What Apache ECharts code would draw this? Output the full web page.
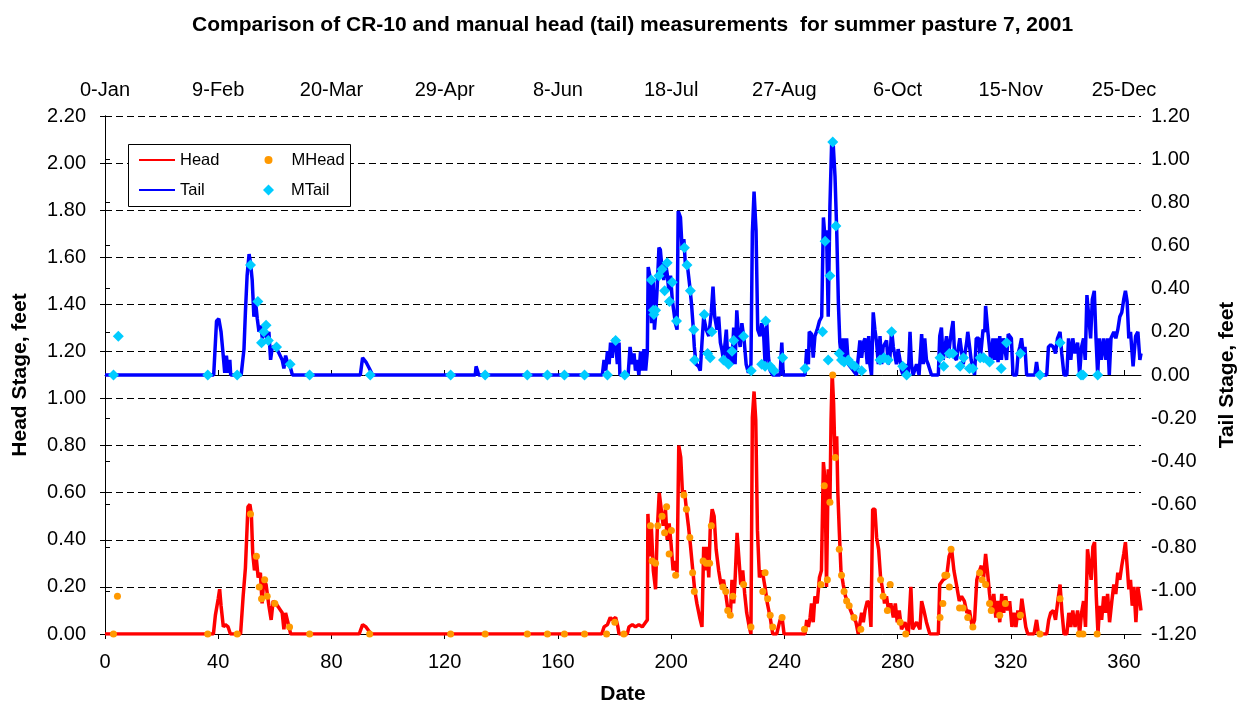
<!DOCTYPE html>
<html>
<head>
<meta charset="utf-8">
<script src="https://cdn.jsdelivr.net/npm/echarts@6/dist/echarts.min.js"></script>
<style>
html,body{margin:0;padding:0;background:#fff;}
#chart{width:1244px;height:706px;}
</style>
</head>
<body>
<div id="chart"></div>
<script>
// ---- Data (day of year, stage in feet) ----
const chartTitle = 'Comparison of CR-10 and manual head (tail) measurements  for summer pasture 7, 2001';
const topTickLabels = ['0-Jan','9-Feb','20-Mar','29-Apr','8-Jun','18-Jul','27-Aug','6-Oct','15-Nov','25-Dec'];

const headData = [
[0,0],[38.3,0],[39,0.08],[40,0.15],[40.5,0.19],[41,0.12],[41.8,0.03],[42.5,0.04],[43.5,0.03],[44.3,0],
[47.9,0],[48.8,0.16],[49.6,0.28],[50.5,0.54],[51.2,0.55],[51.7,0.51],[52.2,0.34],[52.8,0.27],[53.4,0.33],[54.1,0.24],[54.9,0.26],[55.5,0.13],[56.1,0.23],[56.9,0.21],[57.9,0.12],[58.7,0.06],[59.4,0.14],[60.3,0.13],[61.5,0.11],[62.6,0.09],[63.2,0.02],[63.8,0.09],[64.4,0.06],[65,0.03],[65.6,0],
[89.8,0],[91,0.04],[92.2,0.03],[94,0],
[175.5,0],[176.3,0.03],[177.5,0.04],[178.5,0.07],[179.2,0.06],[180.4,0.07],[181.2,0.03],[181.6,0],[184.5,0],[185.1,0.03],[186.3,0.04],[187.4,0.03],[188.6,0.04],[189.8,0.03],[191,0.05],[191.6,0.06],
[191.8,0.51],[192.5,0.33],[193.0,0.46],[193.7,0.27],[194.5,0.19],[195.1,0.44],[195.8,0.60],[196.5,0.53],[197.2,0.46],[198.0,0.53],[198.6,0.40],[199.3,0.47],[200.0,0.38],[200.7,0.27],[201.4,0.31],[202.1,0.26],[202.7,0.80],[203.4,0.75],[204.0,0.60],[204.7,0.61],[205.4,0.53],[206.1,0.46],[206.8,0.38],[207.5,0.29],[208.3,0.19],[209.1,0.13],[210.1,0.07],[210.9,0.03],
[211.5,0.37],[212.1,0.27],[212.7,0.37],[213.3,0.24],[213.8,0.44],[214.5,0.53],[215.2,0.50],[215.9,0.36],[216.8,0.27],[217.6,0.21],[218.5,0.23],[219.4,0.16],[220.1,0.10],[220.9,0.07],[221.5,0.23],[222.1,0.13],[222.6,0.23],[223.3,0.43],[223.9,0.33],[224.6,0.21],[225.3,0.27],[226.0,0.17],[226.7,0.09],[227.6,0.03],[228.2,0],
[228.7,0.92],[229.3,1.03],[229.9,0.91],[230.5,0.44],[231.2,0.24],[231.9,0.27],[232.6,0.24],[233.3,0.19],[234.0,0.13],[235.0,0.07],[235.9,0],[237.3,0],[238.5,0.06],[239.2,0.07],[239.9,0],
[247.3,0],[247.9,0.06],[248.5,0.03],[249.1,0.07],[249.6,0.13],[250.2,0.05],[250.8,0.16],[251.6,0.13],[252.4,0.24],[253.1,0.27],[253.8,0.73],[254.4,0.65],[254.9,0.20],[255.5,0.70],[256.1,0.55],[256.5,0.91],[256.9,1.11],[257.4,0.98],[257.9,0.75],[258.5,0.84],[258.9,0.60],[259.4,0.44],[260.0,0.27],[260.8,0.21],[261.6,0.16],[262.6,0.13],[263.4,0.10],[264.4,0.07],[265.3,0.05],[266.1,0],
[267.3,0.09],[267.9,0.05],[268.5,0.10],[269.3,0.14],[270.0,0.13],[270.6,0.03],[271.2,0.53],[272.0,0.53],[272.6,0.41],[273.3,0.36],[274.0,0.24],[274.7,0.19],[275.4,0.13],[276.1,0.16],[276.8,0.10],[277.6,0.13],[278.5,0.07],[279.2,0.13],[279.9,0.05],[280.6,0.10],[281.4,0.02],[282.6,0.05],[283.8,0],[284.7,0.20],[285.3,0.02],[286.7,0.05],[287.9,0.02],[288.5,0.14],[289.3,0.10],[290.2,0.05],[291.4,0],[294.4,0],
[294.9,0.21],[296.1,0.23],[297.3,0.24],[298.2,0.33],[299.1,0.36],[299.9,0.27],[300.8,0.21],[301.8,0.14],[302.6,0.16],[303.6,0.14],[304.5,0.09],[305.4,0.10],[306.4,0.03],[307.2,0.06],[308.0,0.23],[308.7,0.26],[309.6,0.29],[310.4,0.24],[311.1,0.34],[311.8,0.26],[312.5,0.17],[313.2,0.10],[314.0,0.17],[314.7,0.07],[315.4,0.14],[316.1,0.05],[316.8,0.17],[317.5,0.09],[318.2,0.16],[318.9,0.10],[319.6,0.14],[320.4,0.03],[321.1,0.09],[321.8,0.03],[322.5,0.10],[323.2,0.06],[323.9,0.15],[324.6,0.09],[325.3,0.03],[326.0,0],
[328.2,0],[329.1,0.06],[329.8,0],[332.7,0],[333.4,0.06],[334.1,0.09],[335.0,0.10],[335.8,0.06],[336.5,0.13],[337.4,0.21],[338.1,0.09],[338.8,0],[339.8,0],[340.5,0.09],[341.2,0.03],[341.9,0.10],[342.7,0.03],[343.6,0.10],[344.3,0],[345.0,0.09],[345.7,0.14],[346.4,0.03],[347.1,0.36],[347.8,0.29],[348.4,0.23],[349.0,0.37],[349.6,0.39],[350.2,0.16],[350.8,0],
[351.4,0.12],[352.1,0.06],[352.8,0.16],[353.5,0.09],[354.2,0.17],[354.9,0.05],[355.7,0.14],[356.4,0.21],[357.1,0.17],[357.8,0.26],[358.5,0.23],[359.2,0.29],[359.9,0.34],[360.5,0.39],[361.1,0.29],[361.7,0.19],[362.3,0.23],[362.9,0.12],[363.5,0.20],[364.2,0.05],[364.9,0.20],[365.6,0.14],[366,0.10]
];

const tailData = [
[0,0],[38.4,0],[39.4,0.25],[40.2,0.26],[41.0,0.20],[41.7,0.10],[42.3,0.01],[42.9,0.09],[43.5,0.01],[44.1,0.07],[44.4,0],
[48.1,0],[49.1,0.12],[49.6,0.29],[50.2,0.46],[50.9,0.56],[51.4,0.52],[52.0,0.44],[52.6,0.27],[53.2,0.34],[53.8,0.26],[54.4,0.20],[55.0,0.23],[55.6,0.17],[56.1,0.20],[57.3,0.17],[57.9,0.20],[58.5,0.07],[59.1,0.13],[60.3,0.13],[61.5,0.10],[62.6,0.07],[63.2,0.03],[63.8,0.09],[64.4,0.06],[65.6,0.03],[66.2,0],
[90.2,0],[91,0.08],[92.2,0.06],[93.4,0.03],[94.5,0],[130.8,0],[131.1,0.04],[131.6,0.02],[132,0],
[175.7,0],[176.3,0.07],[176.9,0.02],[177.5,0.11],[178.1,0.05],[178.6,0.15],[179.2,0.08],[179.8,0.17],[180.4,0.15],[181.0,0.05],[181.6,0.15],[181.9,0],[184.8,0],
[185.5,0.13],[186.3,0.05],[186.9,0.10],[187.4,0.02],[188.0,0.07],[188.6,0],[189.2,0.11],[189.8,0.02],[190.4,0.12],[191.0,0.02],[191.6,0.11],
[191.9,0.50],[192.5,0.46],[193.1,0.24],[193.7,0.44],[194.1,0.21],[194.6,0.29],[195.1,0.41],[195.7,0.59],[196.2,0.58],[196.8,0.49],[197.4,0.44],[198.0,0.52],[198.6,0.47],[199.2,0.39],[199.8,0.46],[200.4,0.35],[200.9,0.30],[201.5,0.24],[202.1,0.21],[202.5,0.76],[203.3,0.73],[203.9,0.58],[204.5,0.63],[205.0,0.52],[205.9,0.49],[206.6,0.41],[207.2,0.33],[207.7,0.24],[208.2,0.13],[208.8,0.05],[209.7,0.04],[210.3,0.02],
[210.9,0.15],[211.5,0.27],[212.4,0.21],[213.3,0.18],[214.2,0.29],[214.8,0.41],[215.4,0.27],[216.2,0.21],[216.8,0.27],[217.4,0.15],[217.9,0.12],[218.5,0.07],[219.5,0.21],[220.1,0.05],[220.9,0.13],[221.5,0.05],[222.1,0.22],[222.6,0.05],[223.2,0.30],[223.8,0.18],[224.4,0.13],[225.0,0.24],[225.8,0.16],[226.5,0.05],[227.3,0.01],[228.2,0.05],
[228.7,0.66],[229.3,0.85],[230.0,0.67],[230.6,0.21],[231.4,0.18],[232.0,0.24],[232.6,0.21],[233.2,0.05],[233.8,0.24],[234.4,0.08],[235.0,0.02],[235.9,0],[238.5,0],[239.1,0.15],[239.6,0],
[247.3,0],[247.9,0.12],[248.5,0.05],[248.8,0.20],[249.6,0.19],[250.2,0.08],[250.8,0.18],[251.6,0.21],[252.4,0.25],[253.2,0.27],[253.8,0.73],[254.4,0.63],[254.9,0.67],[255.5,0.27],[256.1,0.78],[256.7,1.07],[257.3,1.06],[257.9,0.92],[258.5,0.67],[259.1,0.33],[259.6,0.15],[260.2,0.08],[260.8,0.17],[261.4,0.07],[262.0,0.17],[262.6,0.05],[263.2,0.04],[264.4,0.02],[265.5,0],
[266.7,0.16],[267.3,0.08],[267.9,0.15],[268.5,0.17],[269.3,0.05],[269.8,0.18],[270.2,0.05],[270.8,0],[271.4,0.29],[272.0,0.21],[272.6,0.15],[273.2,0.05],[273.8,0.18],[274.4,0.05],[274.9,0.13],[276.1,0.16],[276.7,0.05],[277.3,0.08],[277.9,0.21],[278.5,0.13],[279.6,0.05],[280.2,0.12],[281.1,0.05],[281.4,0.02],[282.0,0],[283.2,0.05],[283.8,0],[284.4,0.20],[284.9,0.05],[285.5,0],[286.7,0.05],[287.6,0],[288.5,0.19],[289.1,0.05],[289.6,0.17],[290.2,0.07],[290.8,0.05],[292.0,0],[294.4,0],
[294.9,0.18],[295.5,0.22],[296.1,0.07],[297.3,0.18],[297.9,0.08],[298.5,0.15],[299.1,0.21],[299.6,0.25],[300.2,0.08],[300.8,0.07],[302.0,0.17],[303.2,0.05],[304.4,0.15],[304.8,0.20],[306.0,0.07],[307.2,0],[307.8,0.17],[308.7,0.17],[309.2,0.07],[310.2,0.21],[310.8,0.20],[311.1,0.32],[311.9,0.20],[312.9,0.07],[313.7,0.17],[314.3,0.07],[314.9,0.17],[315.5,0.06],[316.1,0.18],[316.7,0.07],[317.3,0.17],[318.5,0.07],[319.1,0.19],[319.6,0.18],[320.2,0.17],[320.8,0],[322.0,0],
[322.6,0.10],[323.2,0.13],[323.8,0.17],[324.4,0.10],[325.0,0.13],[325.6,0],[328.5,0],[329.1,0.06],[329.7,0],[332.7,0],[333.3,0.13],[334.1,0.14],[335.0,0.13],[335.8,0.10],[336.5,0.17],[337.4,0.20],[338.0,0.10],[338.8,0],[339.8,0],[340.4,0.17],[341.2,0.07],[341.9,0.17],[342.7,0.10],[343.6,0.15],[344.3,0],[345.0,0.13],[345.7,0.17],[346.3,0.07],[346.9,0.37],[347.6,0.37],[348.2,0.17],[348.8,0.35],[349.5,0.39],[350.1,0.17],[350.7,0],
[351.3,0.17],[352.0,0.07],[352.8,0.17],[353.6,0.07],[354.2,0.17],[354.8,0],[355.4,0.17],[356.4,0.20],[357.1,0.17],[357.8,0.21],[358.5,0.27],[359.2,0.29],[359.9,0.35],[360.5,0.39],[361.1,0.34],[361.7,0.17],[362.3,0.20],[363.2,0.04],[364.1,0.18],[364.9,0.20],[365.6,0.07],[366,0.10]
];

const mHeadData = [
[3.0,0],[4.4,0.16],[36.3,0],[46.7,0],[51.4,0.51],[53.5,0.33],[54.5,0.20],[55.3,0.15],[56.4,0.23],[57.3,0.16],[60.0,0.13],[65.2,0.03],[72.3,0],[93.5,0],
[122.1,0],[134.3,0],[149.2,0],[156.3,0],[162.3,0],[169.4,0],[177.2,0],[180.1,0.05],[183.3,0],
[192.7,0.46],[193.3,0.31],[194.5,0.30],[195.3,0.46],[196.8,0.50],[197.7,0.43],[198.4,0.54],[199.3,0.34],[200.1,0.44],[201.6,0.25],[204.5,0.59],[205.4,0.53],[206.6,0.41],[207.6,0.26],[208.2,0.18],
[211.3,0.31],[212.4,0.30],[213.6,0.30],[214.2,0.46],[218.3,0.20],[219.3,0.18],[220.0,0.10],[220.9,0.08],[221.8,0.16],[225.6,0.21],[228.2,0.03],[232.4,0.18],[233.2,0.26],[234.1,0.15],[235.0,0.08],[235.9,0.03],[239.2,0.07],
[247.1,0.02],[252.9,0.21],[254.1,0.63],[255.2,0.23],[256.1,0.56],[257.1,1.10],[258.0,0.75],[259.4,0.36],[260.2,0.25],[261.1,0.18],[262.0,0.14],[262.9,0.12],[264.6,0.07],[267.0,0.02],
[274.0,0.23],[274.9,0.16],[276.4,0.10],[277.4,0.21],[280.9,0.05],[282.9,0],[295.0,0.07],[296.0,0.13],[296.7,0.25],[297.4,0.25],[298.3,0.20],[298.9,0.36],[301.9,0.11],[303.1,0.11],[304.8,0.07],[306.6,0.03],
[309.0,0.26],[309.9,0.23],[311.1,0.21],[312.5,0.13],[313.1,0.10],[316.1,0.08],[318.1,0.13],[323.4,0.08],[330.3,0],[337.4,0.15],[344.2,0],[345.5,0],[350.5,0]
];

const mTailData = [
[3.0,0],[4.7,0.18],[36.3,0],[46.7,0],[51.4,0.51],[54.0,0.34],[55.3,0.15],[56.1,0.20],[56.9,0.23],[57.7,0.16],[60.6,0.13],[65.4,0.05],[72.3,0],[93.7,0],
[122.1,0],[134.3,0],[149.2,0],[156.3,0],[162.3,0],[169.4,0],[177.5,0],[180.4,0.16],[183.6,0],
[193.0,0.44],[193.7,0.30],[193.9,0.28],[194.5,0.30],[195.7,0.46],[196.8,0.49],[197.7,0.39],[198.6,0.52],[199.4,0.34],[200.4,0.43],[201.9,0.25],[204.7,0.59],[205.6,0.51],[206.8,0.39],[208.0,0.21],[208.3,0.07],
[211.7,0.28],[212.9,0.10],[213.8,0.08],[214.4,0.20],[218.5,0.07],[220.3,0.05],[221.5,0.11],[222.1,0.16],[225.6,0.18],[228.3,0.02],[232.0,0.05],[233.2,0.04],[233.4,0.25],[235.0,0.04],[236.4,0.02],[239.4,0.08],
[247.3,0.03],[253.5,0.20],[254.4,0.62],[255.5,0.07],[256.1,0.46],[257.1,1.08],[258.2,0.69],[259.4,0.10],[260.2,0.07],[261.1,0.06],[262.6,0.07],[263.8,0.05],[264.9,0.04],[267.3,0.02],
[273.8,0.07],[275.2,0.08],[276.7,0.07],[277.9,0.20],[281.8,0.04],[283.2,0],[295.0,0.08],[296.3,0.04],[298.3,0.10],[299.5,0.10],[302.1,0.04],[303.3,0.08],[305.4,0.03],[306.6,0.03],
[309.2,0.08],[310.4,0.08],[312.5,0.06],[316.6,0.03],[318.5,0.15],[323.4,0.10],[330.3,0],[337.4,0.15],[344.8,0],[345.5,0],[350.7,0]
];

// ---- Chart ----
const FONT = 'Arial, "Liberation Sans", sans-serif';
const chart = echarts.init(document.getElementById('chart'));
const axisLineStyle = {show: true, lineStyle: {color: '#000', width: 1}};
const tickStyle = {show: true, length: 5, lineStyle: {color: '#000'}};
const labelStyle = {color: '#000', fontFamily: FONT, fontSize: 20};
const nameStyle = {color: '#000', fontFamily: FONT, fontSize: 21, fontWeight: 'bold'};
const legendText = {color: '#000', fontFamily: FONT, fontSize: 16.5, height: 24, lineHeight: 24};

chart.setOption({
  animation: false,
  backgroundColor: '#fff',
  title: {
    text: chartTitle,
    left: 187,
    top: 10,
    textStyle: {color: '#000', fontFamily: FONT, fontSize: 21, fontWeight: 'bold'}
  },
  graphic: [{
    type: 'rect', left: 128, top: 144, z: 50,
    shape: {width: 222, height: 62},
    style: {fill: '#fff', stroke: '#000', lineWidth: 1}
  }],
  legend: [
    {
      left: 138, top: 148, orient: 'vertical', padding: 0,
      itemGap: 6, itemWidth: 36, itemHeight: 9, z: 60,
      textStyle: legendText,
      data: [
        {name: 'Head', itemStyle: {opacity: 0}},
        {name: 'Tail', itemStyle: {opacity: 0}}
      ]
    },
    {
      left: 264.5, top: 148, padding: 0, itemWidth: 8, itemHeight: 8, z: 60,
      textStyle: Object.assign({padding: [0, 0, 0, 14]}, legendText),
      data: ['MHead']
    },
    {
      left: 263, top: 178, padding: 0, itemWidth: 11, itemHeight: 11, z: 60,
      textStyle: Object.assign({padding: [0, 0, 0, 12]}, legendText),
      data: ['MTail']
    }
  ],
  grid: {left: 105, right: 103, top: 116, bottom: 72, containLabel: false, outerBoundsMode: 'none'},
  xAxis: [
    {
      type: 'value', position: 'bottom', min: 0, max: 366, interval: 40,
      axisLine: axisLineStyle, axisTick: tickStyle,
      axisLabel: Object.assign({margin: 18, showMaxLabel: false}, labelStyle),
      splitLine: {show: false},
      name: 'Date', nameLocation: 'middle', nameGap: 50, nameTextStyle: nameStyle
    },
    {
      type: 'value', position: 'top', min: 0, max: 366, interval: 40,
      axisLine: axisLineStyle, axisTick: tickStyle,
      axisLabel: Object.assign({margin: 16, showMaxLabel: false,
        formatter: v => (v % 40 === 0 ? (topTickLabels[v / 40] || '') : '')}, labelStyle),
      splitLine: {show: false}
    }
  ],
  yAxis: [
    {
      type: 'value', position: 'left', min: 0, max: 2.2, interval: 0.2,
      axisLine: axisLineStyle, axisTick: tickStyle,
      axisLabel: Object.assign({margin: 19, formatter: v => v.toFixed(2)}, labelStyle),
      splitLine: {show: true, lineStyle: {color: '#000', width: 1, type: [7, 4]}},
      name: 'Head Stage, feet', nameLocation: 'middle', nameGap: 74, nameTextStyle: nameStyle
    },
    {
      type: 'value', position: 'right', min: -1.2, max: 1.2, interval: 0.2,
      axisLine: axisLineStyle, axisTick: tickStyle,
      axisLabel: Object.assign({margin: 10, formatter: v => v.toFixed(2)}, labelStyle),
      splitLine: {show: false},
      name: 'Tail Stage, feet', nameLocation: 'middle', nameGap: 76, nameTextStyle: nameStyle
    }
  ],
  series: [
    {
      name: 'Head', type: 'line', xAxisIndex: 0, yAxisIndex: 0,
      data: headData, symbol: 'none', showSymbol: false,
      lineStyle: {color: '#FF0000', width: 3.5}, itemStyle: {color: '#FF0000'}, z: 2
    },
    {
      name: 'Tail', type: 'line', xAxisIndex: 0, yAxisIndex: 1,
      data: tailData, symbol: 'none', showSymbol: false,
      lineStyle: {color: '#0000FF', width: 3.5}, itemStyle: {color: '#0000FF'}, z: 2
    },
    {
      name: 'MHead', type: 'scatter', xAxisIndex: 0, yAxisIndex: 0,
      data: mHeadData, symbol: 'circle', symbolSize: 7,
      itemStyle: {color: '#FF9900', opacity: 1}, z: 3
    },
    {
      name: 'MTail', type: 'scatter', xAxisIndex: 0, yAxisIndex: 1,
      data: mTailData, symbol: 'diamond', symbolSize: 11,
      itemStyle: {color: '#00CCFF', opacity: 1}, z: 3
    }
  ]
});
</script>
</body>
</html>
